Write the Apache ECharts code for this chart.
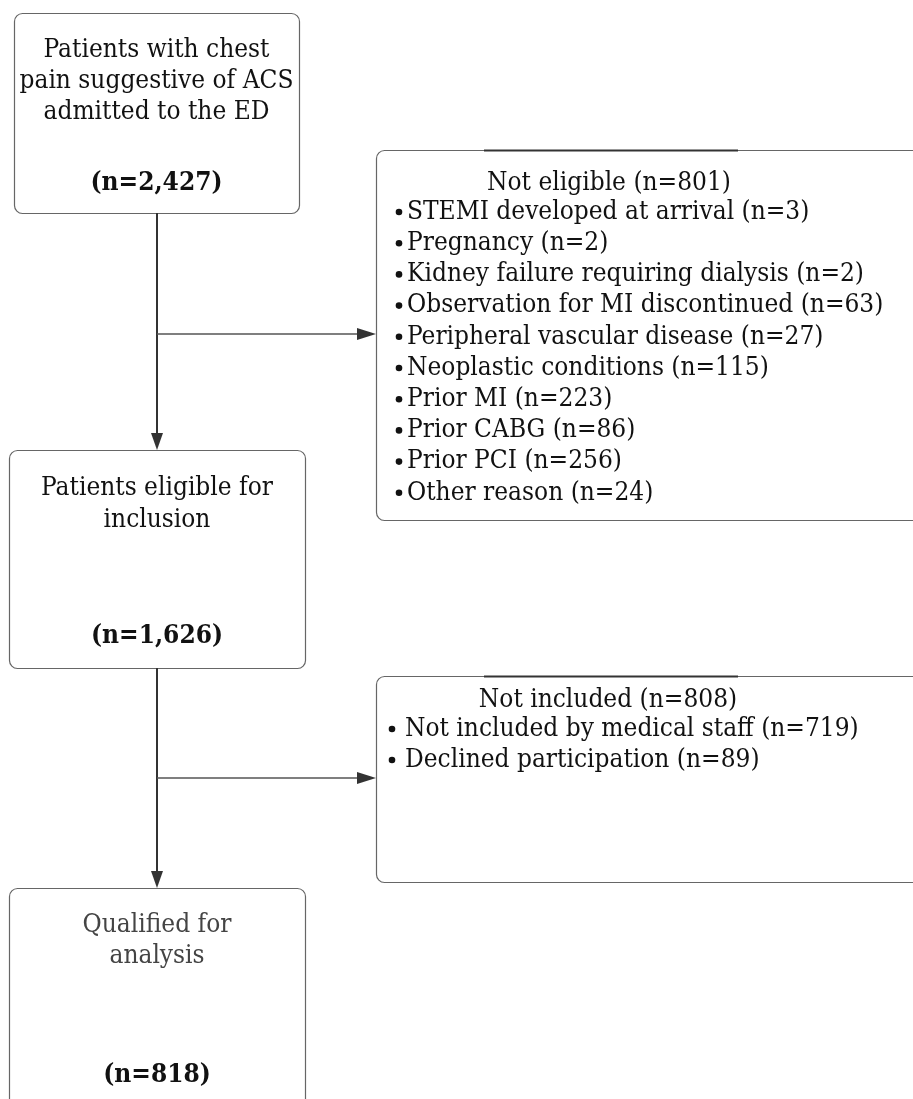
<!DOCTYPE html>
<html>
<head>
<meta charset="utf-8">
<script src="https://cdn.jsdelivr.net/npm/echarts@6/dist/echarts.min.js"></script>
<style>
html,body{margin:0;padding:0;background:#fff;}
#chart{width:913px;height:1099px;}
</style>
</head>
<body>
<div id="chart"></div>
<script>
// ---- data ----
const mainStepLabels = [
  ["Patients with chest", "pain suggestive of ACS", "admitted to the ED"],
  ["Patients eligible for", "inclusion"],
  ["Qualified for", "analysis"]
];
const mainStepCounts = [2427, 1626, 818];
const exclusionTitles = ["Not eligible", "Not included"];
const exclusionTotals = [801, 808];
const notEligibleReasons = [
  "STEMI developed at arrival", "Pregnancy", "Kidney failure requiring dialysis",
  "Observation for MI discontinued", "Peripheral vascular disease", "Neoplastic conditions",
  "Prior MI", "Prior CABG", "Prior PCI", "Other reason"
];
const notEligibleCounts = [3, 2, 2, 63, 27, 115, 223, 86, 256, 24];
const notIncludedReasons = ["Not included by medical staff", "Declined participation"];
const notIncludedCounts = [719, 89];

// ---- layout (positions / styles) ----
const FONT = '"DejaVu Serif Condensed", "DejaVu Serif", serif';
const FS = 26;
const fmt = n => n.toLocaleString('en-US');

const mainBoxes = [
  {x: 14, y: 13, w: 285, h: 200, lines: [50, 81, 112], count: 183, color: '#111'},
  {x: 9, y: 450, w: 296, h: 218, lines: [488, 520], count: 636, color: '#111'},
  {x: 9, y: 888, w: 296, h: 240, lines: [925, 956], count: 1075, color: '#444'}
];
const sideBoxes = [
  {x: 376, y: 150, w: 600, h: 370, titleX: 609, titleY: 183, firstY: 212, step: 31.2, dotX: 399, textX: 407, branchY: 334},
  {x: 376, y: 676, w: 600, h: 206, titleX: 608, titleY: 700, firstY: 729, step: 31, dotX: 392, textX: 405, branchY: 778}
];
const spineX = 157;

const g = [];
function box(b) {
  g.push({type: 'rect', shape: {x: b.x + 0.5, y: b.y + 0.5, width: b.w, height: b.h, r: 8},
    style: {fill: '#fff', stroke: '#666', lineWidth: 1.2}, z: 1});
}
function text(str, x, y, opts) {
  g.push({type: 'text', x: x, y: y, z: 5, style: Object.assign({
    text: str, font: FS + 'px ' + FONT,
    fill: '#111', align: 'center', verticalAlign: 'middle'}, opts || {})});
}
function line(x1, y1, x2, y2, w, c) {
  g.push({type: 'line', shape: {x1, y1, x2, y2}, style: {stroke: c, lineWidth: w}, z: 2});
}
function tri(points) {
  g.push({type: 'polygon', shape: {points}, style: {fill: '#333'}, z: 3});
}

// main steps
mainBoxes.forEach((b, i) => {
  box(b);
  const cx = b.x + b.w / 2;
  mainStepLabels[i].forEach((s, j) => text(s, cx, b.lines[j], {fill: b.color}));
  text('(n=' + fmt(mainStepCounts[i]) + ')', cx, b.count, {font: 'bold ' + FS + 'px ' + FONT});
});

// spine arrows between main boxes
for (let i = 0; i < mainBoxes.length - 1; i++) {
  const top = mainBoxes[i].y + mainBoxes[i].h;
  const bot = mainBoxes[i + 1].y;
  line(spineX, top, spineX, bot - 14, 2, '#333');
  tri([[spineX - 6, bot - 17], [spineX + 6, bot - 17], [spineX, bot]]);
}

// side boxes
const reasonSets = [[notEligibleReasons, notEligibleCounts], [notIncludedReasons, notIncludedCounts]];
sideBoxes.forEach((b, i) => {
  box(b);
  // darker top segment (as in the reference)
  line(b.x + 108, b.y + 0.5, b.x + 362, b.y + 0.5, 2, '#333');
  text(exclusionTitles[i] + ' (n=' + fmt(exclusionTotals[i]) + ')', b.titleX, b.titleY);
  const [names, counts] = reasonSets[i];
  names.forEach((s, j) => {
    const y = b.firstY + j * b.step;
    g.push({type: 'circle', shape: {cx: b.dotX, cy: y, r: 3.3}, style: {fill: '#111'}, z: 5});
    text(s + ' (n=' + fmt(counts[j]) + ')', b.textX, y, {align: 'left'});
  });
  line(spineX, b.branchY, b.x - 16, b.branchY, 1.5, '#555');
  tri([[b.x - 19, b.branchY - 6], [b.x - 19, b.branchY + 6], [b.x, b.branchY]]);
});

const chart = echarts.init(document.getElementById('chart'), null, {renderer: 'canvas'});
chart.setOption({backgroundColor: '#fff', animation: false, graphic: {elements: g}});
</script>
</body>
</html>
